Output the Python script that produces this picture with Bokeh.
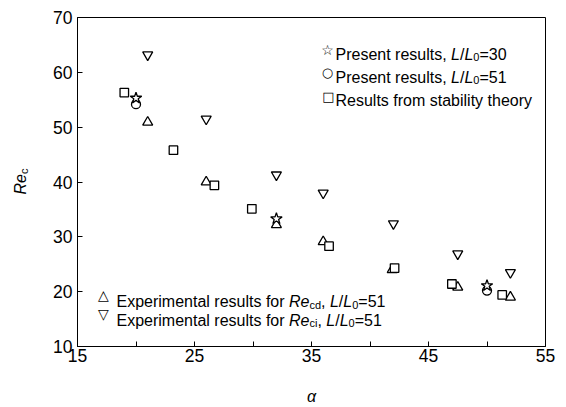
import math
from bokeh.plotting import figure
from bokeh.layouts import row
from bokeh.models import Label, FixedTicker
from bokeh.embed import file_html
from bokeh.resources import INLINE

# Critical Reynolds number Re_c against inclination angle alpha
present30_alpha = [20, 32, 50]
present30_re = [55.3, 33.3, 21.1]

present51_alpha = [20, 50]
present51_re = [54.2, 20.2]

theory_alpha = [19.0, 23.2, 26.7, 29.9, 36.5, 42.1, 47.0, 51.3]
theory_re = [56.3, 45.8, 39.4, 35.1, 28.3, 24.3, 21.4, 19.4]

exp_cd_alpha = [21, 26, 32, 36, 41.9, 47.5, 52]
exp_cd_re = [50.9, 40.0, 32.2, 29.1, 24.0, 20.8, 19.0]

exp_ci_alpha = [21, 26, 32, 36, 42, 47.5, 52]
exp_ci_re = [63.2, 51.5, 41.3, 38.0, 32.4, 26.9, 23.5]

x_ticks = [15, 25, 35, 45, 55]
x_minor_ticks = [20, 30, 40, 50]
y_ticks = [10, 20, 30, 40, 50, 60, 70]

FONT = "Liberation Sans"
BODY = 16
SUB = 11
TICK = 17.5

# Arial / Liberation Sans advance widths (1/1000 em) for composing rich text
WIDTHS = {
    " ": 278, ",": 278, "/": 278, "=": 584, "P": 667, "L": 556, "R": 722,
    "E": 667, "a": 556, "b": 556, "c": 500, "d": 556, "e": 556, "f": 278,
    "h": 556, "i": 222, "l": 222, "m": 833, "n": 556, "o": 556, "p": 556,
    "r": 333, "s": 500, "t": 278, "u": 556, "x": 500, "y": 500,
}


def text_width(s, size):
    return sum(WIDTHS.get(ch, 556) for ch in s) * size / 1000.0


# narrow strip on the left that carries the rotated y-axis title
STRIP_W = 40
strip = figure(width=STRIP_W, height=407, x_range=(0, 1), y_range=(0, 1),
               output_backend="svg", toolbar_location=None,
               x_axis_location=None, y_axis_location=None, min_border=0)
strip.grid.visible = False
strip.outline_line_color = None
strip.background_fill_color = "white"
strip.border_fill_color = "white"

p = figure(width=566 - STRIP_W, height=407, x_range=(15, 55), y_range=(10, 70),
           output_backend="svg", toolbar_location=None,
           min_border_left=77 - STRIP_W, min_border_right=21,
           min_border_top=17, min_border_bottom=61)
p.background_fill_color = "white"
p.border_fill_color = "white"
p.grid.visible = False
p.outline_line_color = "black"
p.outline_line_width = 1
p.outline_line_alpha = 1

p.xaxis.ticker = FixedTicker(ticks=x_ticks, minor_ticks=x_minor_ticks)
p.yaxis.ticker = FixedTicker(ticks=y_ticks)
for ax in (p.xaxis, p.yaxis):
    ax.axis_line_color = "black"
    ax.major_tick_line_color = "black"
    ax.minor_tick_line_color = "black"
    ax.major_tick_in = 5
    ax.major_tick_out = 0
    ax.minor_tick_in = 5
    ax.minor_tick_out = 0
    ax.major_label_text_font = FONT
    ax.major_label_text_font_size = f"{TICK}px"
    ax.major_label_text_color = "black"
p.yaxis.minor_tick_line_color = None
p.yaxis.major_label_standoff = 5
p.xaxis.major_label_standoff = 2

p.xaxis.axis_label = "α"
p.xaxis.axis_label_text_font = FONT
p.xaxis.axis_label_text_font_style = "italic"
p.xaxis.axis_label_text_font_size = f"{BODY}px"
p.xaxis.axis_label_text_color = "black"
p.xaxis.axis_label_text_line_height = 0.7
p.xaxis.axis_label_standoff = 23

style = dict(line_color="black", line_width=1.3, fill_color="white")
p.scatter(exp_cd_alpha, exp_cd_re, marker="triangle", size=10, **style)
p.scatter(theory_alpha, theory_re, marker="square", size=8.5, **style)
p.scatter(exp_ci_alpha, exp_ci_re, marker="inverted_triangle", size=10, **style)
p.scatter(present51_alpha, present51_re, marker="circle", size=9, **style)
p.scatter(present30_alpha, present30_re, marker="star", size=12, **style)

# page-pixel origin (left, bottom) of each frame; the row lines both frames up
MAIN_ORIGIN = (77, 346)
STRIP_ORIGIN = (0, 346)


def rich(fig, origin, parts, x, y, angle=0.0):
    """Write text pieces (text, italic, subscript) from page pixel x, y on the baseline."""
    ox, oy = origin
    ca, sa = math.cos(angle), math.sin(angle)
    offset = 0.0
    for s, italic, sub in parts:
        size = SUB if sub else BODY
        d = 3.0 if sub else 0.0
        sx = (x - ox) + offset * ca + d * sa
        sy = (oy - y) + offset * sa - d * ca
        fig.add_layout(Label(x=sx, y=sy, x_units="screen", y_units="screen",
                             text=s, angle=angle, text_font=FONT,
                             text_font_size=f"{size}px",
                             text_font_style="italic" if italic else "normal",
                             text_align="left", text_baseline="alphabetic",
                             text_color="black"))
        offset += text_width(s, size)


def symbol(ch, x, y, size):
    ox, oy = MAIN_ORIGIN
    p.add_layout(Label(x=x - ox, y=oy - y, x_units="screen", y_units="screen",
                       text=ch, text_font="DejaVu Sans", text_font_size=f"{size}px",
                       text_font_style="bold",
                       text_align="center", text_baseline="middle",
                       text_color="black"))


def main_rich(parts, x, y):
    rich(p, MAIN_ORIGIN, parts, x, y)


# legend, upper right
symbol("☆", 327, 49, 14)
main_rich([("Present results, ", False, False), ("L", True, False), ("/", False, False),
           ("L", True, False), ("0", False, True), ("=30", False, False)], 335, 53.5)
symbol("○", 327, 72, 13)
main_rich([("Present results, ", False, False), ("L", True, False), ("/", False, False),
           ("L", True, False), ("0", False, True), ("=51", False, False)], 335, 76.5)
symbol("□", 328, 96, 13)
main_rich([("Results from stability theory", False, False)], 335, 99.5)

# legend, lower left
symbol("△", 103, 294, 14)
main_rich([("Experimental results for ", False, False), ("Re", True, False), ("cd", False, True),
           (", ", False, False), ("L", True, False), ("/", False, False),
           ("L", True, False), ("0", False, True), ("=51", False, False)], 116, 301)
symbol("▽", 103, 313, 14)
main_rich([("Experimental results for ", False, False), ("Re", True, False), ("ci", False, True),
           (", ", False, False), ("L", True, False), ("/", False, False),
           ("L", True, False), ("0", False, True), ("=51", False, False)], 116, 319.5)

# y axis title Re_c, reading upwards
rich(strip, STRIP_ORIGIN, [("Re", True, False), ("c", False, True)], 20, 194, angle=math.pi / 2)

layout = row(strip, p)
open("out.html", "w").write(file_html(layout, INLINE))
